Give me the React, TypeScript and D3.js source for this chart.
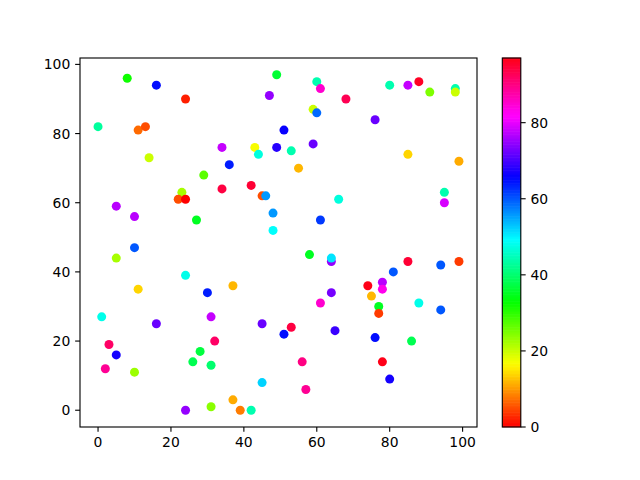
import React from "react";
import * as d3 from "d3";

const xs = [8,16,24,0,11,13,14,34,43,44,49,36,29,34,42,23,22,24,45,46,5,10,27,48,48,49,47,51,60,61,68,80,85,88,91,98,98,59,60,76,53,59,55,85,99,95,95,66,61,10,5,24,11,30,37,1,16,31,45,3,5,32,28,26,31,2,10,45,37,24,31,39,42,58,64,64,85,94,99,81,74,78,78,75,64,61,88,94,77,77,53,51,65,76,86,56,78,80,57];
const ys = [96,94,90,82,81,82,73,76,76,74,76,71,68,64,65,63,61,61,62,62,59,56,55,57,52,97,91,81,95,93,90,94,94,95,92,93,92,87,86,84,75,77,70,74,72,63,60,61,55,47,44,39,35,34,36,27,25,27,25,19,16,20,17,14,13,12,11,8,3,0,1,0,0,45,43,44,43,42,43,40,36,37,35,33,34,31,31,29,30,28,24,22,23,21,20,14,14,9,6];
const cs = [32,65,2,43,7,5,20,78,17,47,68,64,27,94,95,22,5,0,5,56,77,77,35,56,49,36,75,66,44,85,93,44,78,96,25,44,20,20,59,72,44,72,12,14,11,44,79,47,62,60,22,48,14,64,12,48,72,78,72,92,67,92,37,38,40,89,23,52,11,75,24,8,44,35,75,51,95,60,4,60,97,77,83,12,73,85,48,60,35,4,94,65,69,65,38,90,97,67,89];

const xTicks = [0, 20, 40, 60, 80, 100];
const yTicks = [0, 20, 40, 60, 80, 100];
const cTicks = [0, 20, 40, 60, 80];

const hsvR: [number, number][] = [[0,1],[0.15873,1],[0.174603,0.96875],[0.333333,0.03125],[0.349206,0],[0.666667,0],[0.68254,0.03125],[0.84127,1],[1,1]];
const hsvG: [number, number][] = [[0,0],[0.15873,0.9375],[0.174603,1],[0.507937,1],[0.666667,0.0625],[0.68254,0],[1,0]];
const hsvB: [number, number][] = [[0,0],[0.333333,0],[0.349206,0.0625],[0.507937,1],[0.84127,1],[0.857143,0.9375],[1,0.09375]];

const chan = (s: [number, number][]) =>
  d3.scaleLinear().domain(s.map((d) => d[0])).range(s.map((d) => d[1])).clamp(true);
const rS = chan(hsvR), gS = chan(hsvG), bS = chan(hsvB);
const cmap = (t: number) => {
  const q = Math.min(255, Math.floor(t * 256)) / 255;
  return d3.rgb(rS(q) * 255, gS(q) * 255, bS(q) * 255).formatHex();
};

export default function App() {
  const W = 640, H = 480;
  const L = 80, R = 477, T = 58, B = 427;
  const xMin = d3.min(xs)!, xMax = d3.max(xs)!;
  const yMin = d3.min(ys)!, yMax = d3.max(ys)!;
  const cMin = d3.min(cs)!, cMax = d3.max(cs)!;
  const xm = (xMax - xMin) * 0.05, ym = (yMax - yMin) * 0.05;
  const x = d3.scaleLinear().domain([xMin - xm, xMax + xm]).range([L, R]);
  const y = d3.scaleLinear().domain([yMin - ym, yMax + ym]).range([B, T]);
  const cNorm = d3.scaleLinear().domain([cMin, cMax]).range([0, 1]).clamp(true);
  const cbL = 502.3, cbR = 520.8;
  const cy = d3.scaleLinear().domain([cMin, cMax]).range([B, T]);
  const N = 256;
  const font = "DejaVu Sans";
  const fs = 13.9;
  const tl = 4.86;
  const lw = 1.11;
  return (
    <svg width={W} height={H} style={{ position: "absolute", left: 0, top: 0, background: "#fff" }} fontFamily={font}>
      <rect x={0} y={0} width={W} height={H} fill="#fff" />
      {xs.map((xv, i) => (
        <circle key={i} cx={x(xv)} cy={y(ys[i])} r={4.5} fill={cmap(cNorm(cs[i]))} />
      ))}
      <rect x={L} y={T} width={R - L} height={B - T} fill="none" stroke="#000" strokeWidth={lw} />
      {xTicks.map((t) => (
        <g key={"x" + t}>
          <line x1={x(t)} x2={x(t)} y1={B} y2={B + tl} stroke="#000" strokeWidth={lw} />
          <text x={x(t)} y={B + tl + 4.86} dy="0.76em" textAnchor="middle" fontSize={fs}>{t}</text>
        </g>
      ))}
      {yTicks.map((t) => (
        <g key={"y" + t}>
          <line x1={L - tl} x2={L} y1={y(t)} y2={y(t)} stroke="#000" strokeWidth={lw} />
          <text x={L - tl - 4.86} y={y(t)} dy="0.36em" textAnchor="end" fontSize={fs}>{t}</text>
        </g>
      ))}
      {d3.range(N).map((i) => {
        const y0 = B - ((B - T) * i) / N;
        const h = (B - T) / N;
        return <rect key={"cb" + i} x={cbL} y={y0 - h - 0.3} width={cbR - cbL} height={h + 0.6} fill={cmap((i + 0.5) / N)} />;
      })}
      <rect x={cbL} y={T} width={cbR - cbL} height={B - T} fill="none" stroke="#000" strokeWidth={lw} />
      {cTicks.map((t) => (
        <g key={"c" + t}>
          <line x1={cbR} x2={cbR + tl} y1={cy(t)} y2={cy(t)} stroke="#000" strokeWidth={lw} />
          <text x={cbR + tl + 4.86} y={cy(t)} dy="0.36em" textAnchor="start" fontSize={fs}>{t}</text>
        </g>
      ))}
    </svg>
  );
}
